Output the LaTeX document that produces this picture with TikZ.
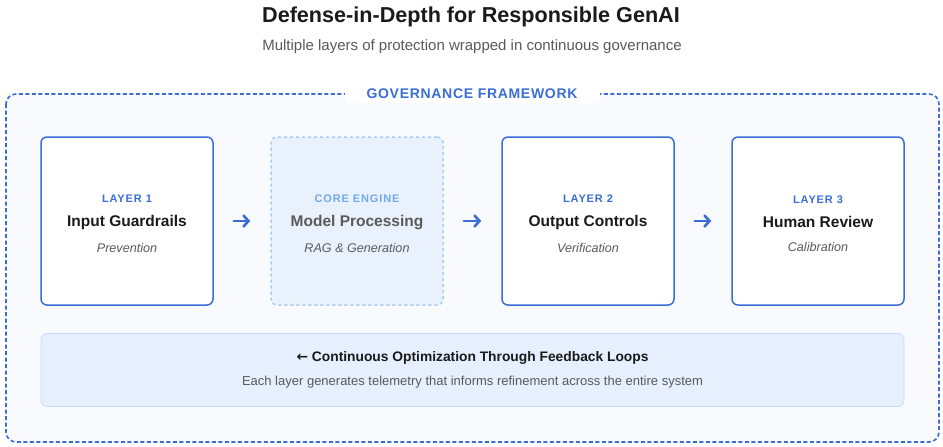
\documentclass[tikz,border=0pt]{standalone}
\usepackage{fontspec}
\setmainfont{Liberation Sans}
\newfontfamily\arrowf{DejaVu Sans}
\usetikzlibrary{positioning,arrows.meta}
\definecolor{blu}{HTML}{3A6ED6}
\definecolor{lblu}{HTML}{72A9EC}
\definecolor{coreln}{HTML}{A9CBF5}
\definecolor{corebg}{HTML}{E9F1FD}
\definecolor{loopbg}{HTML}{E5EFFD}
\definecolor{loopln}{HTML}{C8DDF8}
\definecolor{pagebg}{HTML}{F8FAFD}
\definecolor{ink}{HTML}{1A1A1A}
\definecolor{mid}{HTML}{5A5A5A}
\newcommand{\tagf}{\fontsize{11}{13}\selectfont\bfseries\addfontfeatures{LetterSpace=8}\rule{0pt}{13pt}}
\newcommand{\headf}{\fontsize{15.5}{18}\selectfont\bfseries}
\newcommand{\subf}{\fontsize{12.6}{14}\selectfont\itshape}

\begin{document}
\begin{tikzpicture}[x=1pt, y=-1pt, main/.style={draw=blu, line width=1.5pt, rounded corners=6pt, fill=white, minimum width=172pt, minimum height=168pt, align=center, text=ink}, core/.style={main, draw=coreln, dashed, fill=corebg, text=mid}, info/.style={rounded corners=6pt, draw=loopln, fill=loopbg, line width=0.8pt, minimum width=863pt, minimum height=73pt, align=center}, n/.style={-{Straight Barb[length=5pt, width=11pt, line cap=round]}, draw=blu, line width=2.6pt, line cap=round, shorten >=20pt, shorten <=20pt}]
        \useasboundingbox[fill=white] (0,0) rectangle (943,447);
        % frame
        \draw[blu, line width=1.6pt, dashed, dash pattern=on 4pt off 2.5pt, rounded corners=10pt, fill=pagebg] (6,94) rectangle (939,442);
        \node[fill=white, text=blu, font=\fontsize{14}{16}\selectfont\bfseries\addfontfeatures{LetterSpace=5}, minimum width=255pt, minimum height=18pt] (gov) at (472,94) {GOVERNANCE FRAMEWORK};
        % titles
        \node[text=ink, font=\fontsize{21.6}{24}\selectfont\bfseries] (title) at (471,17) {Defense-in-Depth for Responsible GenAI};
        \node[text=mid, font=\fontsize{15}{17}\selectfont] (sub) at (472,47) {Multiple layers of protection wrapped in continuous governance};
        % nodes
        \node[main] (in) at (127,221) {{\tagf\color{blu}LAYER 1}\\[12pt]{\headf Input Guardrails}\\[12pt]{\subf\color{mid}Prevention}};
        \node[core] (mod) at (357,221) {{\tagf\color{lblu}CORE ENGINE}\\[12pt]{\headf Model Processing}\\[12pt]{\subf RAG \& Generation}};
        \node[main] (out) at (588,221) {{\tagf\color{blu}LAYER 2}\\[12pt]{\headf Output Controls}\\[12pt]{\subf\color{mid}Verification}};
        \node[main] (hum) at (818,221) {{\tagf\color{blu}LAYER 3}\\[12pt]{\headf Human Review}\\[12pt]{\subf\color{mid}Calibration}};
        \node[info] (loop) at (472.5,370) {{\fontsize{13.8}{16}\selectfont\bfseries\color{ink}{\arrowf\fontsize{13.8}{16}\selectfont ←} Continuous Optimization Through Feedback Loops}\\[11pt]{\fontsize{13}{15}\selectfont\color{mid}Each layer generates telemetry that informs refinement across the entire system}};
        % edges
        \draw[n] (in) -- (mod);
        \draw[n] (mod) -- (out);
        \draw[n] (out) -- (hum);
    \end{tikzpicture}
\end{document}
